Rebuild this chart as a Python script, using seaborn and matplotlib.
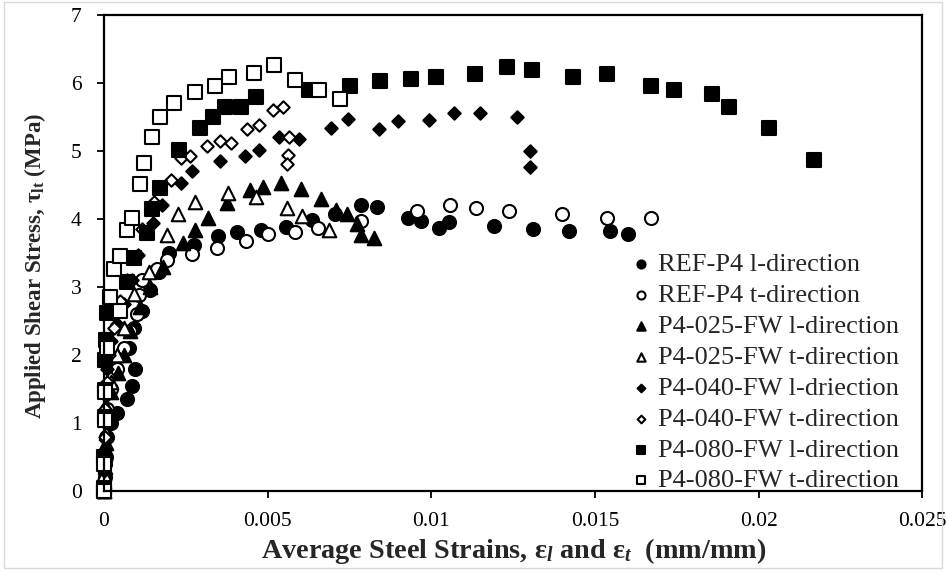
import matplotlib
matplotlib.use("Agg")
import matplotlib.pyplot as plt
import seaborn as sns
import pandas as pd
from matplotlib.patches import Rectangle

# ---- measured steel strains (mm/mm) and applied shear stress (MPa) ----
ref_l_strain = [0, 0.00002, 0.00005, 0.0001, 0.0002, 0.0004, 0.0007, 0.00085, 0.00095,
                0.00075, 0.0009, 0.00116, 0.00141, 0.00167, 0.00197, 0.00274, 0.00348,
                0.00405, 0.0048, 0.00557, 0.00634, 0.00705, 0.00785, 0.00835, 0.0093,
                0.00968, 0.01023, 0.01055, 0.01192, 0.01309, 0.01421, 0.01545, 0.01602]
ref_l_stress = [0, 0.2, 0.5, 0.8, 1.0, 1.15, 1.35, 1.55, 1.8,
                2.1, 2.39, 2.64, 2.96, 3.22, 3.5, 3.62, 3.75,
                3.81, 3.84, 3.88, 3.99, 4.07, 4.21, 4.17, 4.01,
                3.97, 3.87, 3.95, 3.9, 3.85, 3.83, 3.82, 3.78]

ref_t_strain = [0, 0.00002, 0.00005, 0.0001, 0.0002, 0.0004, 0.0006, 0.0008, 0.001,
                0.00106, 0.00116, 0.00162, 0.00192, 0.0027, 0.00344, 0.00435, 0.00502,
                0.00582, 0.00654, 0.00785, 0.00955, 0.01058, 0.01137, 0.01237, 0.01399,
                0.01537, 0.0167]
ref_t_stress = [0, 0.4, 0.8, 1.2, 1.5, 1.8, 2.1, 2.35, 2.6,
                2.88, 3.1, 3.27, 3.4, 3.49, 3.57, 3.67, 3.78,
                3.81, 3.87, 3.97, 4.11, 4.21, 4.16, 4.11, 4.07,
                4.01, 4.01]

p025_l_strain = [0, 0.00001, 0.00003, 0.00005, 0.0001, 0.0002, 0.00043, 0.0006, 0.0008,
                 0.0011, 0.0014, 0.0018, 0.00241, 0.00277, 0.00318, 0.00375, 0.00446,
                 0.00485, 0.0054, 0.00601, 0.00663, 0.0071, 0.00742, 0.00772, 0.00785,
                 0.00826]
p025_l_stress = [0, 0.15, 0.35, 0.7, 1.1, 1.45, 1.74, 2.0, 2.35,
                 2.7, 3.0, 3.3, 3.65, 3.84, 4.01, 4.23, 4.43,
                 4.47, 4.53, 4.44, 4.29, 4.13, 4.07, 3.93, 3.77,
                 3.72]

p025_t_strain = [0, 0.00001, 0.00003, 0.00006, 0.0001, 0.0002, 0.0004, 0.0006, 0.0009,
                 0.00136, 0.00191, 0.00225, 0.00277, 0.0038, 0.00464, 0.0056, 0.00606,
                 0.00688]
p025_t_stress = [0, 0.25, 0.55, 0.85, 1.2, 1.6, 2.0, 2.4, 2.9,
                 3.22, 3.77, 4.08, 4.25, 4.38, 4.33, 4.16, 4.05,
                 3.84]

p040_l_strain = [0, 0.00001, 0.00002, 0.00004, 0.00006, 0.0001, 0.0002, 0.0004, 0.0006,
                 0.00085, 0.00105, 0.00151, 0.00177, 0.00236, 0.0027, 0.00354, 0.0043,
                 0.00472, 0.00534, 0.00596, 0.00693, 0.00746, 0.0084, 0.00897, 0.00994,
                 0.0107, 0.01149, 0.01261, 0.01302, 0.01302]
p040_l_stress = [0, 0.3, 0.6, 1.0, 1.4, 1.8, 2.2, 2.45, 2.75,
                 3.1, 3.47, 3.94, 4.2, 4.53, 4.71, 4.85, 4.93,
                 5.02, 5.2, 5.17, 5.33, 5.47, 5.32, 5.44, 5.46,
                 5.56, 5.56, 5.5, 5.0, 4.76]

p040_t_strain = [0, 0.00001, 0.00002, 0.00004, 0.00008, 0.00015, 0.0003, 0.0005, 0.0007,
                 0.00116, 0.00152, 0.00206, 0.00236, 0.00262, 0.00315, 0.00354, 0.00387,
                 0.00436, 0.00474, 0.00515, 0.00548, 0.00566, 0.00561, 0.00558]
p040_t_stress = [0, 0.4, 0.8, 1.2, 1.6, 2.0, 2.4, 2.8, 3.1,
                 3.85, 4.25, 4.58, 4.9, 4.93, 5.07, 5.14, 5.11,
                 5.32, 5.38, 5.6, 5.64, 5.2, 4.94, 4.81]

p080_l_strain = [0, 0, 0.00001, 0.00002, 0.00003, 0.00003, 0.00005, 0.0001, 0.0007,
                 0.0009, 0.00131, 0.00146, 0.00172, 0.00228, 0.00294, 0.00333, 0.00368,
                 0.00417, 0.00465, 0.00627, 0.00751, 0.00844, 0.00939, 0.01014, 0.01132,
                 0.0123, 0.01307, 0.01433, 0.01536, 0.0167, 0.01742, 0.01856, 0.01908,
                 0.02033, 0.02169]
p080_l_stress = [0, 0.05, 0.5, 1.09, 1.49, 1.93, 2.22, 2.62, 3.08,
                 3.42, 3.79, 4.14, 4.45, 5.01, 5.33, 5.5, 5.64,
                 5.65, 5.8, 5.9, 5.95, 6.03, 6.06, 6.08, 6.13,
                 6.23, 6.19, 6.08, 6.13, 5.96, 5.89, 5.83, 5.64,
                 5.34, 4.86]

p080_t_strain = [0, 0.00001, 0.00002, 0.00004, 0.0001, 0.0005, 0.00018, 0.00029, 0.00049,
                 0.0007, 0.00085, 0.0011, 0.00121, 0.00146, 0.00172, 0.00215, 0.00277,
                 0.00338, 0.00381, 0.00459, 0.00518, 0.00583, 0.00656, 0.00722]
p080_t_stress = [0, 0.4, 1.04, 1.46, 2.1, 2.64, 2.86, 3.27, 3.45,
                 3.84, 4.01, 4.52, 4.83, 5.21, 5.5, 5.7, 5.86,
                 5.95, 6.08, 6.14, 6.27, 6.05, 5.89, 5.76]

series_names = ["REF-P4 l-direction", "REF-P4 t-direction",
                "P4-025-FW l-direction", "P4-025-FW t-direction",
                "P4-040-FW l-driection", "P4-040-FW t-direction",
                "P4-080-FW l-direction", "P4-080-FW t-direction"]

x_ticks = [0, 0.005, 0.01, 0.015, 0.02, 0.025]
x_tick_labels = ["0", "0.005", "0.01", "0.015", "0.02", "0.025"]
y_ticks = [0, 1, 2, 3, 4, 5, 6, 7]

# ---- assemble a long table ----
columns = [(ref_l_strain, ref_l_stress), (ref_t_strain, ref_t_stress),
           (p025_l_strain, p025_l_stress), (p025_t_strain, p025_t_stress),
           (p040_l_strain, p040_l_stress), (p040_t_strain, p040_t_stress),
           (p080_l_strain, p080_l_stress), (p080_t_strain, p080_t_stress)]
frames = []
for name, (xs, ys) in zip(series_names, columns):
    frames.append(pd.DataFrame({"strain": xs, "stress": ys, "series": name}))
data = pd.concat(frames, ignore_index=True)

# marker, filled, size (pt^2)
marker_style = {
    "REF-P4 l-direction": ("o", True, 88),
    "REF-P4 t-direction": ("o", False, 88),
    "P4-025-FW l-direction": ("^", True, 95),
    "P4-025-FW t-direction": ("^", False, 95),
    "P4-040-FW l-driection": ("D", True, 40),
    "P4-040-FW t-direction": ("D", False, 40),
    "P4-080-FW l-direction": ("s", True, 88),
    "P4-080-FW t-direction": ("s", False, 88),
}

sns.set_theme(style="ticks")
plt.rcParams["font.family"] = ["Liberation Serif", "DejaVu Serif"]
plt.rcParams["mathtext.fontset"] = "custom"
plt.rcParams["mathtext.rm"] = "Liberation Serif:bold"
plt.rcParams["mathtext.it"] = "Liberation Serif:italic:bold"
plt.rcParams["mathtext.bf"] = "Liberation Serif:bold"

fig = plt.figure(figsize=(9.46, 5.73), dpi=100)
ax = fig.add_axes([0.110, 0.143, 0.865, 0.831])

for name in series_names:
    mk, filled, size = marker_style[name]
    sub = data[data["series"] == name]
    sns.scatterplot(data=sub, x="strain", y="stress", ax=ax, marker=mk, s=size,
                    color="black", facecolor="black" if filled else "white",
                    edgecolor="black", linewidth=1.5, label=name, clip_on=False)

ax.set_xlim(0, 0.025)
ax.set_ylim(0, 7)
ax.set_xticks(x_ticks)
ax.set_xticklabels(x_tick_labels)
ax.set_yticks(y_ticks)
ax.tick_params(axis="both", direction="out", length=5, width=1.3,
               labelsize=15.5, colors="black")
ax.tick_params(axis="x", pad=10)
ax.tick_params(axis="y", pad=11)
for side in ["left", "right", "top", "bottom"]:
    ax.spines[side].set_visible(True)
    ax.spines[side].set_linewidth(1.6)
    ax.spines[side].set_color("black")

ax.set_xlabel("Average Steel Strains, ε$_{l}$ and ε$_{t}$  (mm/mm)",
              fontsize=20.3, fontweight="bold", labelpad=4)
ax.set_ylabel("Applied Shear Stress, τ$_{\\mathrm{lt}}$ (MPa)",
              fontsize=16.5, fontweight="bold")
ax.yaxis.set_label_coords(-0.068, 0.473)

leg = ax.legend(loc="lower right", bbox_to_anchor=(0.984, -0.025), frameon=False,
                fontsize=19, handletextpad=0.25, handlelength=0.8,
                labelspacing=0.28, borderaxespad=0.0, markerscale=0.62)

# light outer frame of the chart area
fig.patches.append(Rectangle((0.004, 0.008), 0.992, 0.988, transform=fig.transFigure,
                             fill=False, edgecolor="#d9d9d9", linewidth=1.0))

fig.savefig("out.png", dpi=100, facecolor="white")
